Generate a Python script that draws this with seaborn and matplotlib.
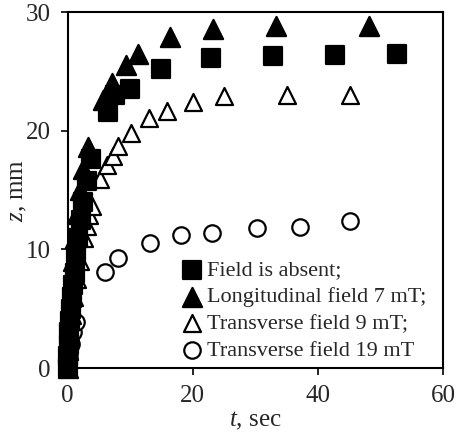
import numpy as np
import pandas as pd
import matplotlib
matplotlib.use("Agg")
import matplotlib.pyplot as plt
import seaborn as sns

# ── Data ─────────────────────────────────────────────────────
t_absent = [0, 0.1, 0.2, 0.3, 0.4, 0.5, 0.7, 0.9, 1.1, 1.4, 1.7, 2.1, 2.5, 3.1, 3.8,
            6.4, 7.6, 9.9, 14.9, 22.9, 32.8, 42.7, 52.6]
z_absent = [0, 1.0, 2.0, 3.0, 4.0, 5.0, 6.0, 7.0, 8.0, 9.5, 11.0, 12.5, 14.0, 15.8, 17.6,
            21.6, 23.0, 23.5, 25.2, 26.1, 26.3, 26.4, 26.5]

t_long = [0, 0.1, 0.2, 0.3, 0.5, 0.7, 0.9, 1.2, 1.5, 2.0, 2.5, 3.2,
          5.6, 7.1, 9.3, 11.2, 16.3, 23.2, 33.3, 48.1]
z_long = [0, 1.5, 3.0, 4.5, 6.0, 7.5, 9.0, 11.0, 13.0, 15.0, 16.8, 18.6,
          22.6, 24.0, 25.5, 26.5, 27.9, 28.6, 28.8, 28.8]

t_trans9 = [0, 0.2, 0.4, 0.7, 1.0, 1.5, 2.0, 2.6, 3.1, 3.4, 3.9, 5.2, 6.3, 7.3, 8.1,
            10.1, 13.0, 15.9, 20.1, 25.0, 35.0, 45.1]
z_trans9 = [0, 1.5, 3.0, 4.5, 6.0, 7.5, 9.0, 11.0, 12.0, 12.9, 13.7, 15.9, 17.1, 17.9, 18.7,
            19.8, 21.1, 21.7, 22.4, 22.9, 23.0, 23.0]

t_trans19 = [0, 0.1, 0.3, 0.5, 0.8, 1.3, 5.9, 8.0, 13.1, 18.1, 23.1, 30.3, 37.1, 45.1]
z_trans19 = [0, 0.5, 1.2, 2.0, 3.0, 3.9, 8.1, 9.3, 10.5, 11.2, 11.4, 11.8, 11.9, 12.4]

labels = ["Field is absent;", "Longitudinal field 7 mT;",
          "Transverse field 9 mT;", "Transverse field 19 mT"]

# ── Style ────────────────────────────────────────────────────
sns.set_style("ticks")
plt.rcParams["font.family"] = ["Liberation Serif", "DejaVu Serif"]
plt.rcParams["mathtext.fontset"] = "custom"
plt.rcParams["mathtext.it"] = "Liberation Serif:italic"
plt.rcParams["mathtext.rm"] = "Liberation Serif"

fig = plt.figure(figsize=(4.6, 4.32), dpi=100)
ax = fig.add_axes([0.147, 0.148, 0.816, 0.824])

# (t, z, marker, face, size, zorder) — open markers sit under the filled ones
series = [
    (t_absent, z_absent, "s", "black", 150, 4),
    (t_long, z_long, "^", "black", 190, 5),
    (t_trans9, z_trans9, "^", "white", 150, 3),
    (t_trans19, z_trans19, "o", "white", 140, 2),
]
for (t, z, mk, fc, sz, zo), lab in zip(series, labels):
    df = pd.DataFrame({"t": t, "z": z})
    sns.scatterplot(data=df, x="t", y="z", marker=mk, s=sz, color=fc,
                    edgecolor="black", linewidth=1.6, label=lab, ax=ax,
                    zorder=zo, clip_on=False)

ax.set_xlim(0, 60)
ax.set_ylim(0, 30)
ax.set_xticks([0, 20, 40, 60])
ax.set_yticks([0, 10, 20, 30])
ax.tick_params(labelsize=18, length=5, width=1.2, color="black", pad=7)
for sp in ax.spines.values():
    sp.set_visible(True)
    sp.set_linewidth(1.5)
    sp.set_color("black")

ax.set_xlabel(r"$t$, sec", fontsize=18, labelpad=2)
ax.set_ylabel(r"$z$, mm", fontsize=18, labelpad=-2)

ax.legend(loc="lower left", bbox_to_anchor=(0.27, -0.005), frameon=False,
          fontsize=16, handletextpad=0.0, labelspacing=0.28,
          borderaxespad=0, handlelength=1.3)

fig.savefig("out.png", dpi=100)
